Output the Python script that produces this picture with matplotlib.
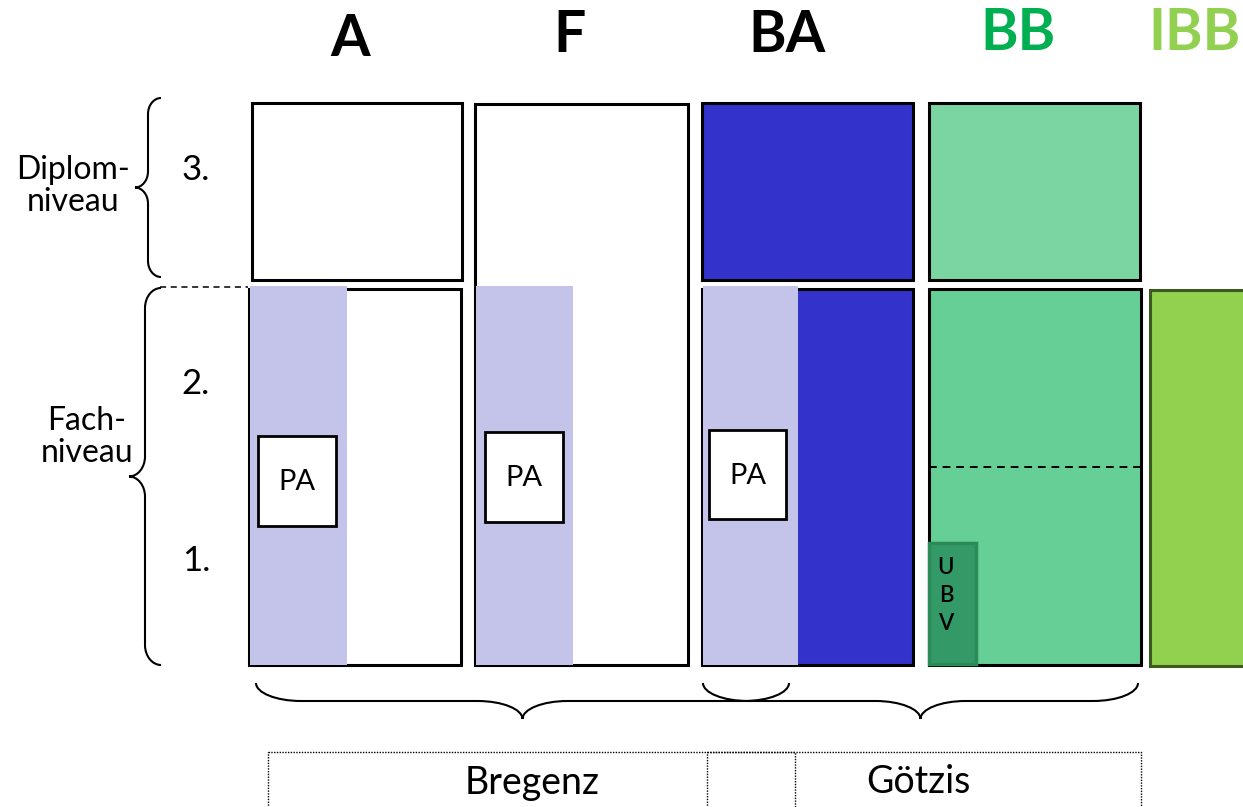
import matplotlib.pyplot as plt
from matplotlib.patches import Rectangle, PathPatch
from matplotlib.path import Path

plt.rcParams['font.family'] = ['Lato', 'DejaVu Sans']

# labels / texts of the diagram
headers = ["A", "F", "BA", "BB", "IBB"]
header_colors = ["black", "black", "black", "#00B050", "#92D050"]
level_names = ["Diplom-\nniveau", "Fach-\nniveau"]
level_numbers = ["3.", "2.", "1."]
pa_label = "PA"
ubv_letters = ["U", "B", "V"]
locations = ["Bregenz", "Götzis"]

BLUE = "#3333CC"
LAVENDER = "#C4C4EA"
BB_TOP = "#7AD5A3"
BB_LOW = "#66CF96"
UBV = "#339966"
IBB = "#92D050"


def box(ax, x0, y0, x1, y1, fc="white", ec="black", lw=2.2, z=2):
    ax.add_patch(Rectangle((x0, y0), x1 - x0, y1 - y0, facecolor=fc,
                           edgecolor=ec, linewidth=lw, zorder=z))


CODES = [Path.MOVETO, Path.CURVE4, Path.CURVE4, Path.CURVE4,
         Path.LINETO,
         Path.CURVE4, Path.CURVE4, Path.CURVE4,
         Path.CURVE4, Path.CURVE4, Path.CURVE4,
         Path.LINETO,
         Path.CURVE4, Path.CURVE4, Path.CURVE4]


def vbrace(ax, x, y1, y2, w, r=14):
    # brace pointing to the left, spine at x
    ym = (y1 + y2) / 2
    k = 0.55
    verts = [(x + w, y1), (x + w * (1 - k), y1), (x, y1 + r * (1 - k)), (x, y1 + r),
             (x, ym - r),
             (x, ym - r * (1 - k)), (x - w * (1 - k), ym), (x - w, ym),
             (x - w * (1 - k), ym), (x, ym + r * (1 - k)), (x, ym + r),
             (x, y2 - r),
             (x, y2 - r * (1 - k)), (x + w * (1 - k), y2), (x + w, y2)]
    ax.add_patch(PathPatch(Path(verts, CODES), fc="none", ec="black", lw=1.5, zorder=3))


def hbrace(ax, x1, x2, y, h, r=40):
    # brace pointing down, spine at y
    xm = (x1 + x2) / 2
    k = 0.55
    verts = [(x1, y - h), (x1, y - h * (1 - k)), (x1 + r * (1 - k), y), (x1 + r, y),
             (xm - r, y),
             (xm - r * (1 - k), y), (xm, y + h * (1 - k)), (xm, y + h),
             (xm, y + h * (1 - k)), (xm + r * (1 - k), y), (xm + r, y),
             (x2 - r, y),
             (x2 - r * (1 - k), y), (x2, y - h * (1 - k)), (x2, y - h)]
    ax.add_patch(PathPatch(Path(verts, CODES), fc="none", ec="black", lw=1.5, zorder=3))


fig = plt.figure(figsize=(12.43, 8.07), dpi=100)
ax = fig.add_axes([0, 0, 1, 1])
ax.set_xlim(0, 1243)
ax.set_ylim(807, 0)
ax.axis("off")

# headers
header_x = [350, 570, 787, 1018, 1195]
header_y = [40, 35, 35, 33, 33]
for t, c, x, y in zip(headers, header_colors, header_x, header_y):
    ax.text(x, y, t, color=c, fontsize=41, fontweight="bold", ha="center", va="center")

# A
box(ax, 252, 103, 462, 280)
box(ax, 249, 289, 461, 665, z=1)
ax.add_patch(Rectangle((250, 286), 97, 379, fc=LAVENDER, ec="none", zorder=2))
# F
box(ax, 475, 104, 688, 665, z=1)
ax.add_patch(Rectangle((476.5, 286), 96.5, 379, fc=LAVENDER, ec="none", zorder=2))
# BA
box(ax, 702, 103, 913, 280, fc=BLUE)
box(ax, 702, 289, 913, 665, fc=BLUE, z=1)
ax.add_patch(Rectangle((703, 286), 95, 379, fc=LAVENDER, ec="none", zorder=2))
# BB
box(ax, 929, 103, 1140, 280, fc=BB_TOP)
box(ax, 929, 289, 1141, 665, fc=BB_LOW, z=1)
ax.plot([929, 1143], [467, 467], color="black", lw=1.4, ls=(0, (4, 3)), zorder=2)
box(ax, 929.5, 543, 976, 664, fc=UBV, ec="#2A8A58", lw=2.5, z=3)
for i, s in enumerate(ubv_letters):
    ax.text(946, 567 + 28 * i, s, fontsize=16, fontweight="semibold",
            ha="center", va="center", zorder=4)
# IBB
box(ax, 1150, 290, 1250, 666, fc=IBB, ec="#3A5A20", lw=2.2, z=1)

# PA boxes
pa_boxes = [(258, 436, 336, 526), (485, 432, 563, 522), (709, 430, 786, 519)]
for x0, y0, x1, y1 in pa_boxes:
    box(ax, x0, y0, x1, y1, lw=2, z=3)
    ax.text((x0 + x1) / 2, (y0 + y1) / 2 + 1, pa_label, fontsize=21,
            ha="center", va="center", zorder=4)

# left side
ax.text(73, 186, level_names[0], fontsize=23, ha="center", va="center", linespacing=1.05)
ax.text(87, 437, level_names[1], fontsize=23, ha="center", va="center", linespacing=1.05)
for t, y in zip(level_numbers, [170, 384, 561]):
    ax.text(196, y, t, fontsize=25, ha="center", va="center")
vbrace(ax, 148, 98, 277, 13, r=16)
vbrace(ax, 145, 288, 665, 16, r=20)
ax.plot([160, 248], [287, 287], color="black", lw=1.1, ls=(0, (4, 3)), zorder=3)

# bottom braces
hbrace(ax, 256, 789, 701, 18, r=45)
hbrace(ax, 703, 1138, 701, 18, r=45)

# location boxes
ax.add_patch(Rectangle((268, 752), 527, 70, fc="none", ec="black", lw=1, ls=(0, (1, 1)), zorder=3))
ax.add_patch(Rectangle((707, 752), 434, 70, fc="none", ec="black", lw=1, ls=(0, (1, 1)), zorder=3))
ax.text(532, 783, locations[0], fontsize=27, ha="center", va="center")
ax.text(918, 782, locations[1], fontsize=27, ha="center", va="center")

fig.savefig("out.png", dpi=100)
